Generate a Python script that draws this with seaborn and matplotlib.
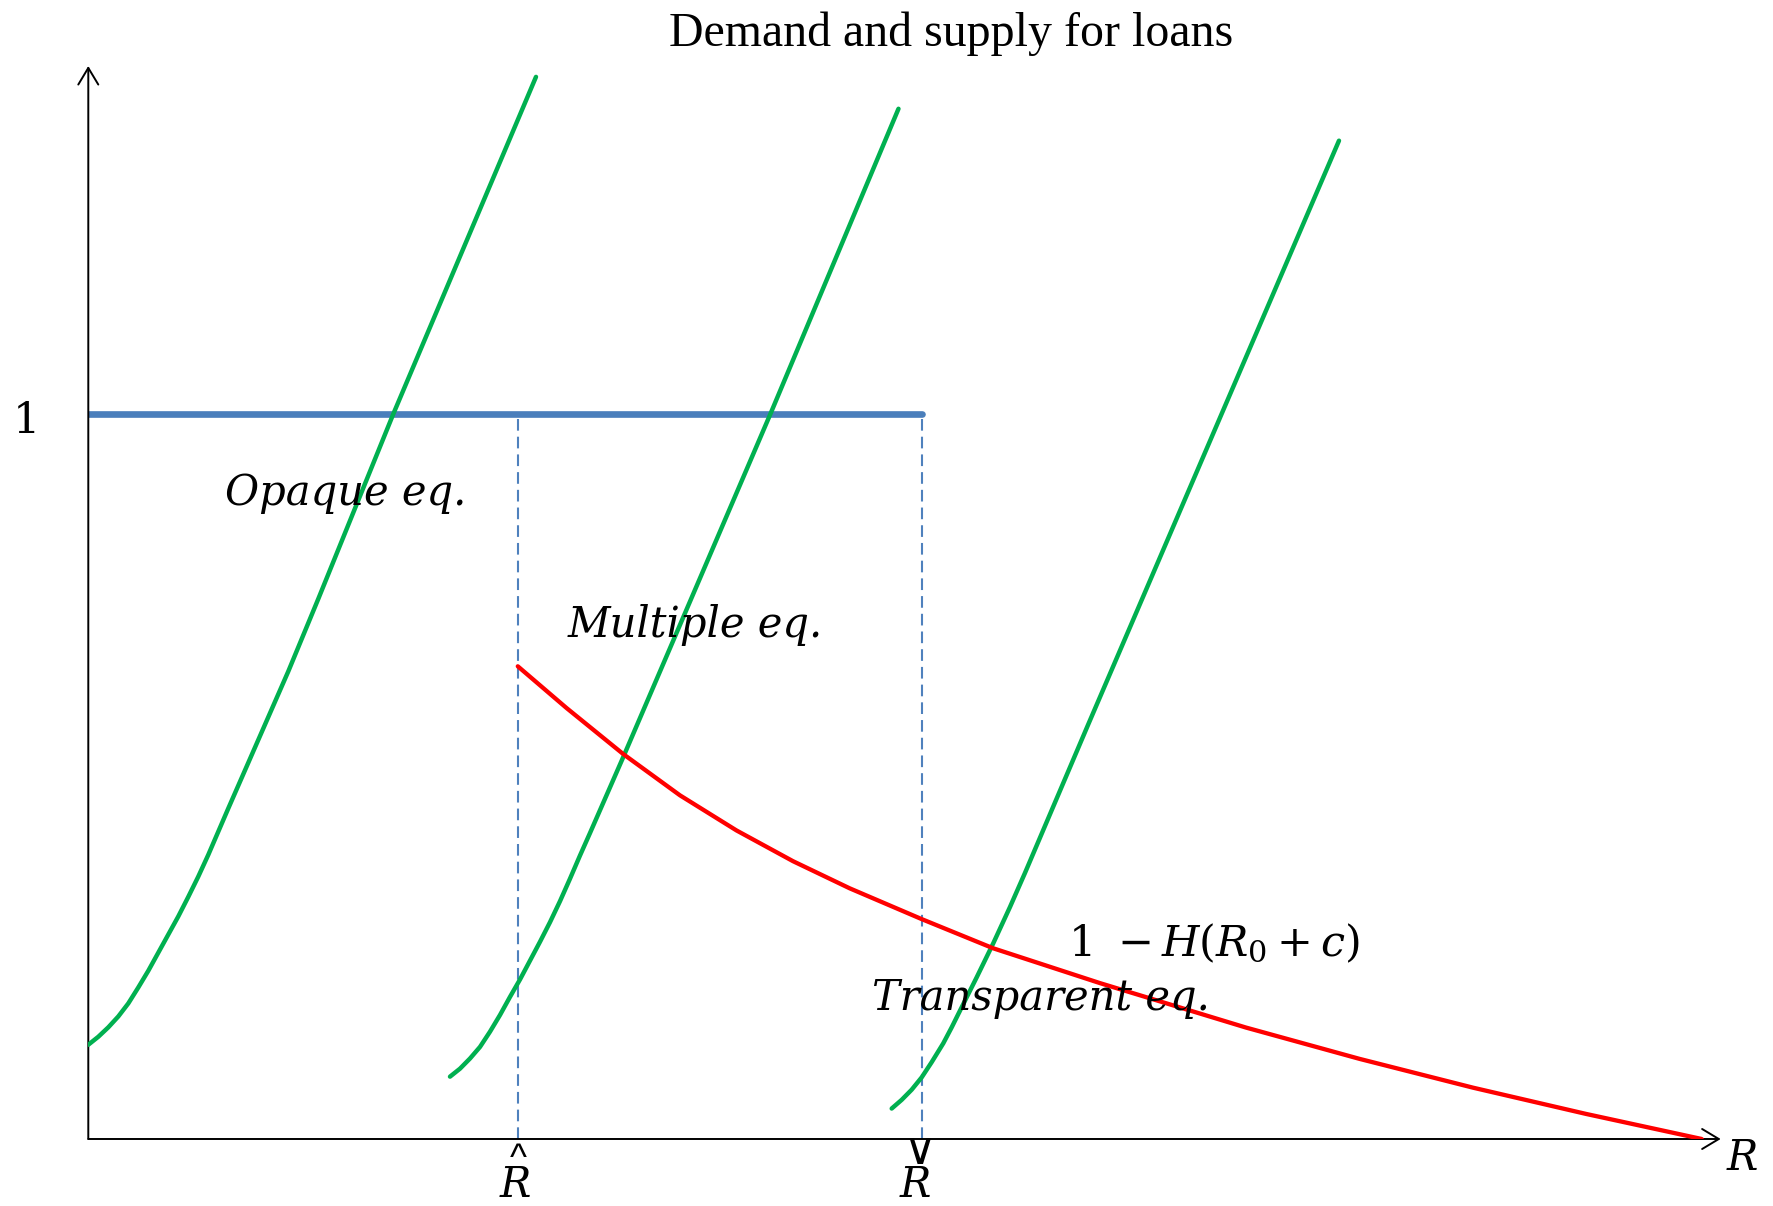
import matplotlib
matplotlib.use("Agg")
import matplotlib.pyplot as plt
import seaborn as sns
import pandas as pd

# ---------------- data ----------------
# supply curves (green), three shifted copies
supply1_x = [0.000, 0.100, 0.200, 0.300, 0.400, 0.500, 0.600, 0.700, 0.800, 0.900,
             1.000, 1.100, 1.200, 1.300, 1.400, 1.600, 1.800, 2.000, 2.300, 3.050, 4.477]
supply1_y = [0.130, 0.141, 0.154, 0.169, 0.187, 0.209, 0.232, 0.257, 0.282, 0.307,
             0.334, 0.362, 0.392, 0.424, 0.456, 0.519, 0.582, 0.645, 0.745, 1.000, 1.465]

supply2_x = [3.617, 3.717, 3.817, 3.917, 4.017, 4.117, 4.217, 4.317, 4.417, 4.517,
             4.617, 4.717, 4.817, 4.917, 5.017, 5.217, 5.347, 5.817, 6.821, 8.102]
supply2_y = [0.086, 0.097, 0.111, 0.127, 0.148, 0.171, 0.196, 0.220, 0.246, 0.272,
             0.299, 0.328, 0.359, 0.391, 0.422, 0.485, 0.526, 0.677, 1.000, 1.421]

supply3_x = [8.034, 8.134, 8.234, 8.334, 8.434, 8.550, 8.634, 8.717, 8.884, 9.050,
             9.217, 9.367, 10.000, 12.507]
supply3_y = [0.042, 0.054, 0.068, 0.085, 0.106, 0.132, 0.154, 0.177, 0.223, 0.270,
             0.320, 0.367, 0.572, 1.377]

# demand curve 1 - H(R0 + c) (red)
demand_x = [4.295, 4.782, 5.349, 5.917, 6.482, 7.047, 7.615, 8.334, 9.050,
            10.117, 11.577, 12.713, 13.847, 14.977, 16.134]
demand_y = [0.652, 0.5945, 0.531, 0.474, 0.4256, 0.3832, 0.3457, 0.3033, 0.263,
            0.215, 0.1537, 0.1105, 0.0708, 0.0346, 0.000]

R_hat = 4.30
R_check = 8.34
level_one = 1.0

title_text = "Demand and supply for loans"
labels = ["Opaque eq.", "Multiple eq.", "Transparent eq."]
demand_label = r"$1\ -H(R_0+c)$"

# ---------------- style ----------------
sns.set_style("white")
plt.rcParams["font.family"] = ["Liberation Serif", "DejaVu Serif"]
plt.rcParams["mathtext.fontset"] = "dejavuserif"
plt.rcParams["text.color"] = "black"

GREEN = "#00B050"
RED = "#FF0000"
BLUE = "#4A7EBB"
DASH_BLUE = "#4F81BD"
FS_TITLE = 34.5
FS_LAB = 30

fig = plt.figure(figsize=(17.74, 12.06), dpi=100)
ax = fig.add_axes([0.04977, 0.05556, 0.93010, 0.90174])

# dashed verticals
for xv in (R_hat, R_check):
    ax.plot([xv, xv], [0, level_one], color=DASH_BLUE, lw=1.5,
            linestyle=(0, (5.6, 2.9)), zorder=2)

# blue horizontal at 1
blue_df = pd.DataFrame({"x": [0, R_check], "y": [level_one, level_one]})
sns.lineplot(data=blue_df, x="x", y="y", color=BLUE, linewidth=4.8, ax=ax,
             sort=False, estimator=None, zorder=3)

# green supply curves
for sx, sy in ((supply1_x, supply1_y), (supply2_x, supply2_y), (supply3_x, supply3_y)):
    df = pd.DataFrame({"x": sx, "y": sy})
    sns.lineplot(data=df, x="x", y="y", color=GREEN, linewidth=3.2, ax=ax,
                 sort=False, estimator=None, zorder=4)

# red demand curve
dem_df = pd.DataFrame({"x": demand_x, "y": demand_y})
sns.lineplot(data=dem_df, x="x", y="y", color=RED, linewidth=3.1, ax=ax,
             sort=False, estimator=None, zorder=4)

ax.set_xlim(0, 16.5)
ax.set_ylim(0, 1.5)
ax.axis("off")

# axes with open arrowheads
arrow_kw = dict(arrowstyle="->,head_length=0.6,head_width=0.36", lw=1.4,
                color="black", shrinkA=0, shrinkB=0, mutation_scale=20)
ax.annotate("", xy=(16.324, 0), xytext=(0, 0), arrowprops=arrow_kw,
            annotation_clip=False)
ax.annotate("", xy=(0, 1.48), xytext=(0, 0), arrowprops=arrow_kw,
            annotation_clip=False)

# texts
fig.text(0.5359, 0.9718, title_text, ha="center", va="center", fontsize=FS_TITLE,
         family="Liberation Serif")
ax.text(-0.616, 0.99, "1", ha="center", va="center", fontsize=31,
        family="DejaVu Serif", clip_on=False)
lab_kw = dict(fontsize=FS_LAB, family="DejaVu Serif", style="italic", zorder=5)
ax.text(2.577, 0.8745, labels[0], ha="center", va="baseline", **lab_kw)
ax.text(6.074, 0.6928, labels[1], ha="center", va="baseline", **lab_kw)
ax.text(7.834, 0.1779, labels[2], ha="left", va="baseline", **lab_kw)
ax.text(9.797, 0.2514, demand_label, ha="left", va="baseline", fontsize=31,
        zorder=5)

# axis symbols: R-hat, R-check, R
for xr in (4.267, 8.274):
    ax.text(xr, -0.080, "R", ha="center", va="baseline", clip_on=False, **lab_kw)
ax.text(4.30, -0.042, "^", ha="center", va="baseline", fontsize=26,
        family="Liberation Sans", clip_on=False)
ax.text(8.31, -0.0175, "\u2228", ha="center", va="center", fontsize=32,
        family="DejaVu Sans", clip_on=False)
ax.text(16.384, -0.0428, "R", ha="left", va="baseline", clip_on=False, **lab_kw)

fig.savefig("out.png", dpi=100)
